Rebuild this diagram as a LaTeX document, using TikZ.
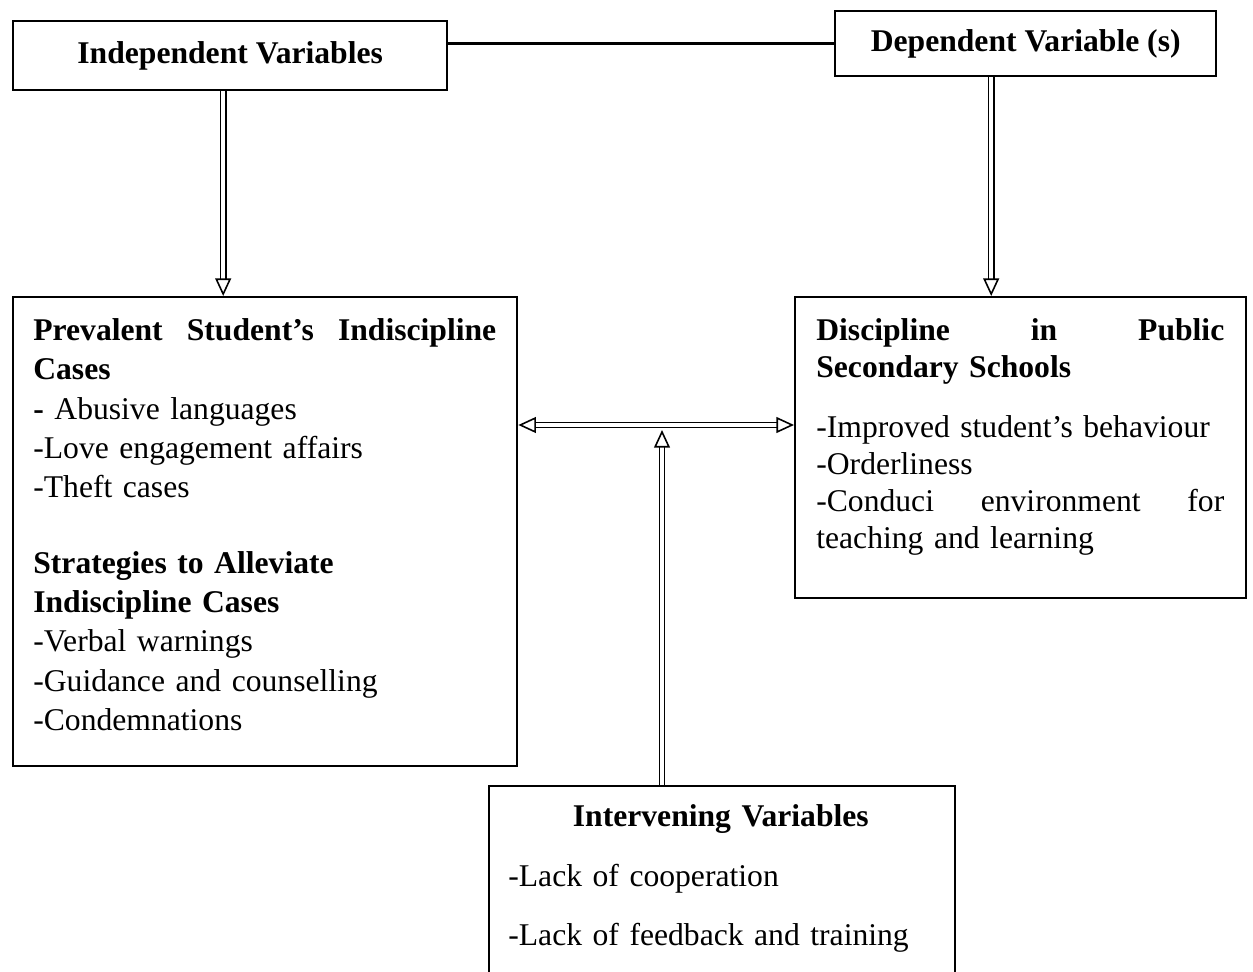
\documentclass[tikz,border=0pt]{standalone}
\usepackage{fontspec}
\setmainfont{Liberation Serif}
\usetikzlibrary{arrows.meta}
\usetikzlibrary{positioning}

\tikzset{
  frame/.style={draw, line width=1.4pt, inner sep=0pt, anchor=north west},
  boxtext/.style={anchor=north west, inner sep=0pt, align=left},
  dblarrow/.style={double, double distance=2pt, line width=0.9pt, -{Triangle[open, length=10pt, width=9pt]}},
  dblboth/.style={double, double distance=2pt, line width=0.9pt, {Triangle[open, length=10pt, width=9pt]}-{Triangle[open, length=10pt, width=9pt]}},
}

\begin{document}
\begin{tikzpicture}[x=0.02cm, y=-0.02cm, font=\fontsize{18}{22.4}\selectfont]
  \useasboundingbox (0, 0) rectangle (1253, 972);
  \clip (0, 0) rectangle (1253, 972);

  % top boxes
  \node at (12, 20) [frame, minimum width=8.68cm, minimum height=1.38cm] (indep) {};
  \node at (indep.center) [] (indeptext) {\bfseries Independent Variables};
  \node at (834, 10) [frame, minimum width=7.62cm, minimum height=1.30cm] (dep) {};
  \node at (dep.center) [] (deptext) {\bfseries Dependent Variable (s)};

  % middle boxes
  \node at (12, 296) [frame, minimum width=10.08cm, minimum height=9.38cm] (prev) {};
  \node at (33, 318) [boxtext, text width=9.26cm] (prevtext) {%
    \textbf{Prevalent\hfill Student’s\hfill Indiscipline}\\
    \textbf{Cases}\\
    \textbf{-} Abusive languages\\
    -Love engagement affairs\\
    -Theft cases\\[20.5pt]
    \textbf{Strategies to Alleviate}\\
    \textbf{Indiscipline Cases}\\
    -Verbal warnings\\
    -Guidance and counselling\\
    -Condemnations};
  \node at (794, 296) [frame, minimum width=9.02cm, minimum height=6.02cm] (disc) {};
  \node at (816, 318) [boxtext, text width=8.16cm, font=\fontsize{18}{21}\selectfont] (disctext) {%
    \textbf{Discipline\hfill in\hfill Public}\\
    \textbf{Secondary Schools}\\[13.5pt]
    -Improved student’s behaviour\\
    -Orderliness\\
    -Conduci\hfill environment\hfill for\\
    teaching and learning};

  % bottom box
  \node at (488, 785) [frame, minimum width=9.32cm, minimum height=4.5cm] (interv) {};
  \node at (508, 804) [boxtext, text width=8.5cm, font=\fontsize{18}{34}\selectfont] (intervtext) {%
    \hfill\textbf{Intervening Variables}\hfill\null\\
    -Lack of cooperation\\
    -Lack of feedback and training};

  \coordinate (mid) at (662, 425);

  % connectors
  \draw [line width=1.7pt] (dep.west) -- (dep.west -| indep.east);
  \draw [dblarrow] ([xshift=-0.14cm]indep.south) -- ([xshift=-0.14cm]indep.south |- prev.north);
  \draw [dblarrow] ([xshift=-0.69cm]dep.south) -- ([xshift=-0.69cm]dep.south |- disc.north);
  \draw [dblboth] (prev.east |- mid) -- (disc.west |- mid);
  \draw [dblarrow] (interv.north -| mid) -- ([yshift=-0.1cm]mid);
\end{tikzpicture}
\end{document}
